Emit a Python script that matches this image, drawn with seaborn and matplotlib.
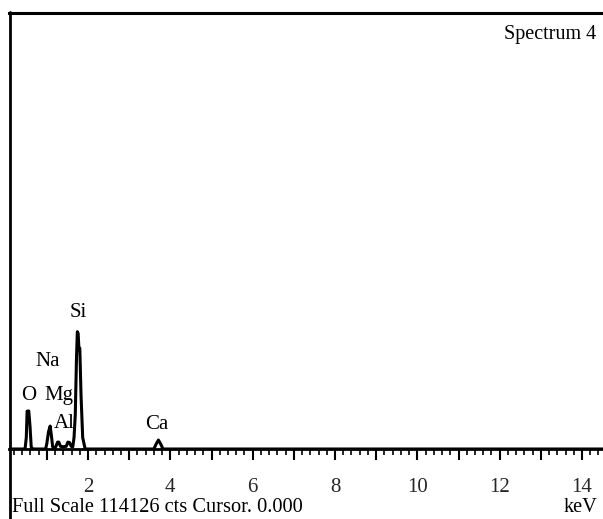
import matplotlib
matplotlib.use("Agg")
import matplotlib.pyplot as plt
from matplotlib.lines import Line2D
from matplotlib.ticker import MultipleLocator
import seaborn as sns
import pandas as pd

# Spectrum trace (keV, counts)
energy = [0.08, 0.47, 0.50, 0.52, 0.56, 0.59, 0.62, 0.66,
          0.97, 1.00, 1.04, 1.08, 1.11, 1.14, 1.18,
          1.22, 1.26, 1.29, 1.33, 1.40, 1.47, 1.51, 1.55, 1.59,
          1.63, 1.66, 1.69, 1.72, 1.74, 1.76, 1.78, 1.80, 1.83, 1.87, 1.93,
          3.60, 3.65, 3.71, 3.77, 3.82, 14.51]
counts = [0, 0, 3000, 9900, 9950, 6000, 500, 0,
          0, 1500, 4500, 6000, 3500, 600, 0,
          700, 1800, 1800, 700, 600, 700, 1800, 1700, 700,
          600, 3000, 9000, 24000, 30700, 30200, 26000, 26400, 14000, 3000, 0,
          0, 1200, 2350, 1200, 0, 0]

elements = ["O", "Na", "Mg", "Al", "Si", "Ca"]
label_x = [0.57, 1.03, 1.28, 1.42, 1.76, 3.67]
label_y = [14100, 22800, 14100, 6800, 35600, 6500]

full_scale = 114126
xticks_major = [2, 4, 6, 8, 10, 12, 14]

sns.set_style("white")
plt.rcParams["font.family"] = ["Liberation Serif", "DejaVu Serif"]

fig = plt.figure(figsize=(6.03, 5.19), dpi=100)
ax = fig.add_axes([9 / 603, (519 - 449) / 519, 1 - 9 / 603, (449 - 13) / 519])

df = pd.DataFrame({"keV": energy, "cts": counts})
sns.lineplot(data=df, x="keV", y="cts", estimator=None, color="black",
             linewidth=2.2, ax=ax)

ax.set_xlim(0.08, 14.51)
ax.set_ylim(0, full_scale)
ax.set_xlabel("")
ax.set_ylabel("")
ax.set_yticks([])

ax.xaxis.set_minor_locator(MultipleLocator(0.2))
ax.set_xticks([v for v in range(1, 15)], minor=False)
ax.set_xticklabels([str(v) if v in xticks_major else "" for v in range(1, 15)])
ax.tick_params(axis="x", which="major", direction="out", length=8, width=1.5,
               color="black", labelsize=15, pad=13, bottom=True)
ax.tick_params(axis="x", which="minor", direction="out", length=4, width=1.2,
               color="black", bottom=True)

for side in ["right", "left"]:
    ax.spines[side].set_visible(False)
ax.spines["top"].set_linewidth(2.2)
ax.spines["bottom"].set_linewidth(2.0)
ax.spines["top"].set_color("black")
ax.spines["bottom"].set_color("black")

# left border running down to the bottom of the figure
fig.add_artist(Line2D([9.5 / 603, 9.5 / 603], [0, (519 - 12) / 519],
                      transform=fig.transFigure, color="black", linewidth=2.0))

for name, x, y in zip(elements, label_x, label_y):
    ax.text(x, y, name, ha="center", va="center", fontsize=15, color="black")

ax.text(0.988, 0.95, "Spectrum 4", transform=ax.transAxes, ha="right",
        va="center", fontsize=14.5, color="black")
fig.text(12 / 603, 1 - 508 / 519, "Full Scale 114126 cts Cursor. 0.000",
         ha="left", va="center", fontsize=14.7, color="black")
fig.text(598 / 603, 1 - 508 / 519, "keV", ha="right", va="center",
         fontsize=14.7, color="black")

fig.savefig("out.png", dpi=100)
